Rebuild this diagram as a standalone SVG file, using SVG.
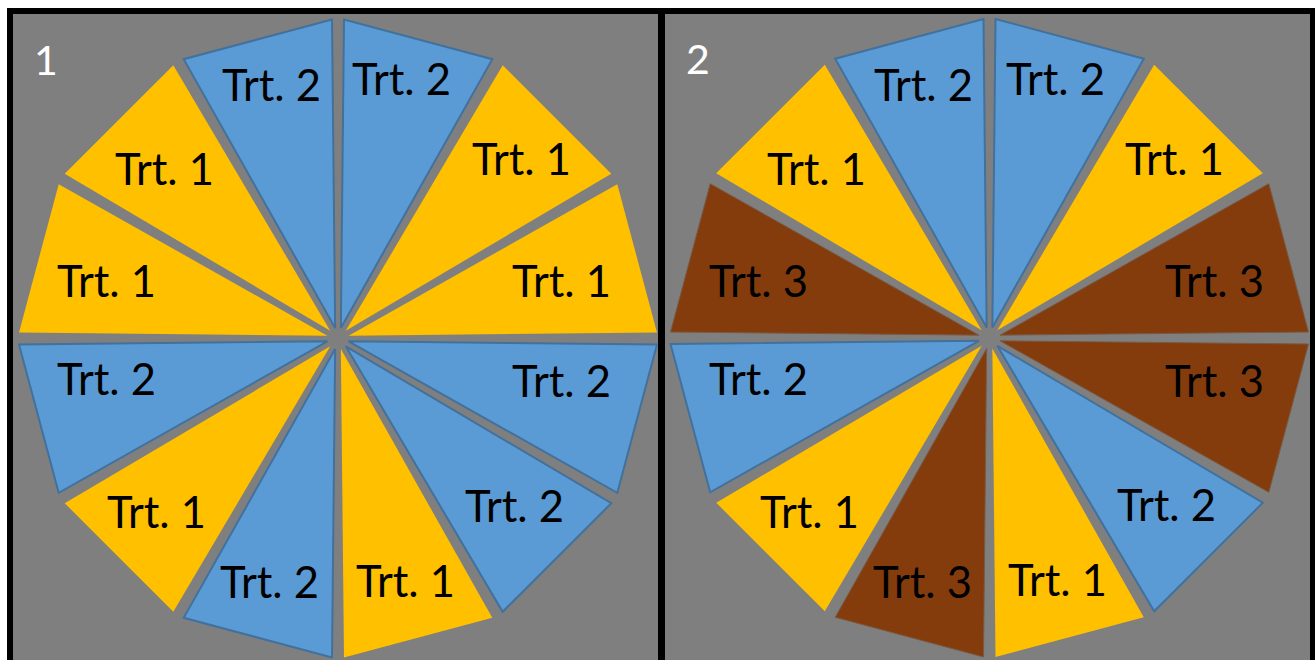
<svg xmlns="http://www.w3.org/2000/svg" width="1315" height="660" viewBox="0 0 1315 660">
<style>
.bg{fill:#7f7f7f}
.y{fill:#ffc000}
.b{fill:#5b9bd5;stroke:#41719c;stroke-width:2;stroke-linejoin:miter}
.r{fill:#843c0c;stroke:#7a5a44;stroke-width:1}
.lbl{font-family:Lato,"Liberation Sans",sans-serif;font-size:43.5px;fill:#000}
.num{font-family:Lato,"Liberation Sans",sans-serif;font-size:41px;fill:#fff}
</style>
<rect x="0" y="0" width="1315" height="660" fill="#fff"/>
<rect x="7" y="8" width="1308" height="660" fill="#000"/>
<rect class="bg" x="13" y="14" width="645" height="660"/>
<rect class="bg" x="665" y="14" width="645" height="660"/>

<g id="panel1" transform="translate(338,338.5)">
<g id="p1-s0"><polygon class="y" points="10.6,-2.85 319,-6 279.3,-154.3"/></g>
<g id="p1-s1"><polygon class="y" points="7.78,-7.78 273.3,-164.7 164.7,-273.3"/></g>
<g id="p1-s2"><polygon class="b" points="2.85,-10.6 154.3,-279.3 6,-319"/></g>
<g id="p1-s3"><polygon class="b" points="-2.85,-10.6 -6,-319 -154.3,-279.3"/></g>
<g id="p1-s4"><polygon class="y" points="-7.78,-7.78 -164.7,-273.3 -273.3,-164.7"/></g>
<g id="p1-s5"><polygon class="y" points="-10.6,-2.85 -279.3,-154.3 -319,-6"/></g>
<g id="p1-s6"><polygon class="b" points="-10.6,2.85 -319,6 -279.3,154.3"/></g>
<g id="p1-s7"><polygon class="y" points="-7.78,7.78 -273.3,164.7 -164.7,273.3"/></g>
<g id="p1-s8"><polygon class="b" points="-2.85,10.6 -154.3,279.3 -6,319"/></g>
<g id="p1-s9"><polygon class="y" points="2.85,10.6 6,319 154.3,279.3"/></g>
<g id="p1-s10"><polygon class="b" points="7.78,7.78 164.7,273.3 273.3,164.7"/></g>
<g id="p1-s11"><polygon class="b" points="10.6,2.85 279.3,154.3 319,6"/></g>
</g>

<g id="panel2" transform="translate(989.5,338)">
<g id="p2-s0"><polygon class="r" points="10.6,-2.85 319,-6 279.3,-154.3"/></g>
<g id="p2-s1"><polygon class="y" points="7.78,-7.78 273.3,-164.7 164.7,-273.3"/></g>
<g id="p2-s2"><polygon class="b" points="2.85,-10.6 154.3,-279.3 6,-319"/></g>
<g id="p2-s3"><polygon class="b" points="-2.85,-10.6 -6,-319 -154.3,-279.3"/></g>
<g id="p2-s4"><polygon class="y" points="-7.78,-7.78 -164.7,-273.3 -273.3,-164.7"/></g>
<g id="p2-s5"><polygon class="r" points="-10.6,-2.85 -279.3,-154.3 -319,-6"/></g>
<g id="p2-s6"><polygon class="b" points="-10.6,2.85 -319,6 -279.3,154.3"/></g>
<g id="p2-s7"><polygon class="y" points="-7.78,7.78 -273.3,164.7 -164.7,273.3"/></g>
<g id="p2-s8"><polygon class="r" points="-2.85,10.6 -154.3,279.3 -6,319"/></g>
<g id="p2-s9"><polygon class="y" points="2.85,10.6 6,319 154.3,279.3"/></g>
<g id="p2-s10"><polygon class="b" points="7.78,7.78 164.7,273.3 273.3,164.7"/></g>
<g id="p2-s11"><polygon class="r" points="10.6,2.85 279.3,154.3 319,6"/></g>
</g>

<g id="labels">
<text class="num" x="34" y="75">1</text>
<text class="num" x="686" y="74">2</text>

<text class="lbl" x="222" y="101">Trt. 2</text>
<text class="lbl" x="352" y="95">Trt. 2</text>
<text class="lbl" x="115" y="185">Trt. 1</text>
<text class="lbl" x="472" y="175">Trt. 1</text>
<text class="lbl" x="57" y="297">Trt. 1</text>
<text class="lbl" x="512" y="297">Trt. 1</text>
<text class="lbl" x="57" y="395">Trt. 2</text>
<text class="lbl" x="512" y="397">Trt. 2</text>
<text class="lbl" x="107" y="528">Trt. 1</text>
<text class="lbl" x="465" y="522">Trt. 2</text>
<text class="lbl" x="220" y="598">Trt. 2</text>
<text class="lbl" x="356" y="597">Trt. 1</text>

<text class="lbl" x="874" y="101">Trt. 2</text>
<text class="lbl" x="1006" y="95">Trt. 2</text>
<text class="lbl" x="767" y="185">Trt. 1</text>
<text class="lbl" x="1125" y="175">Trt. 1</text>
<text class="lbl" x="709" y="297">Trt. 3</text>
<text class="lbl" x="1165" y="297">Trt. 3</text>
<text class="lbl" x="709" y="395">Trt. 2</text>
<text class="lbl" x="1165" y="397">Trt. 3</text>
<text class="lbl" x="760" y="528">Trt. 1</text>
<text class="lbl" x="1117" y="521">Trt. 2</text>
<text class="lbl" x="873" y="598">Trt. 3</text>
<text class="lbl" x="1008" y="596">Trt. 1</text>
</g>
</svg>
